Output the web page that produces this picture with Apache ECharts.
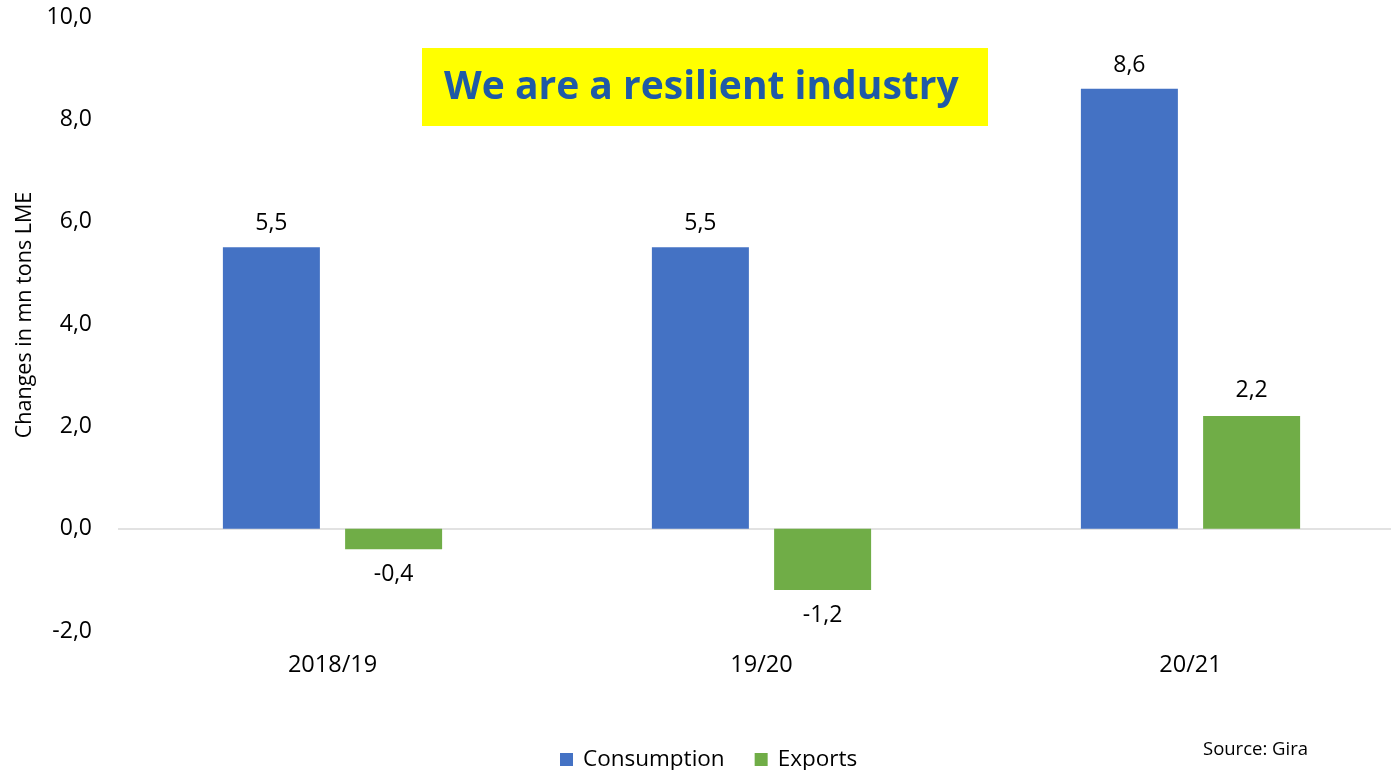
<!DOCTYPE html>
<html>
<head>
<meta charset="utf-8">
<style>
  html, body { margin: 0; padding: 0; background: #ffffff; }
  #chart { width: 1391px; height: 770px; }
</style>
<script src="https://cdn.jsdelivr.net/npm/echarts@6/dist/echarts.min.js"></script>
</head>
<body>
<div id="chart"></div>
<script>
// Season categories and yearly changes (mn tons LME)
const categories = ['2018/19', '19/20', '20/21'];
const consumption = [5.5, 5.5, 8.6];
const exportsChange = [-0.4, -1.2, 2.2];
const seriesNames = ['Consumption', 'Exports'];

const FONT = '"Open Sans", "Liberation Sans", sans-serif';
const fmt = v => v.toFixed(1).replace('.', ',');

// Positive bars get their label above, negative ones below
function withLabels(values) {
  return values.map(v => ({
    value: v,
    label: { position: v < 0 ? 'bottom' : 'top' }
  }));
}

const chart = echarts.init(document.getElementById('chart'), null, { renderer: 'canvas' });

chart.setOption({
  animation: false,
  backgroundColor: '#ffffff',
  textStyle: { fontFamily: FONT },
  // plot area runs a little past the right edge of the canvas
  grid: { left: 118, width: 1287, top: 17, bottom: 139, containLabel: false, outerBoundsMode: 'none' },
  legend: {
    data: seriesNames,
    left: 555,
    top: 743,
    itemWidth: 13,
    itemHeight: 13,
    itemGap: 30,
    icon: 'rect',
    textStyle: { fontFamily: FONT, fontSize: 22.5, color: '#000000', padding: [0, 0, 0, 5] }
  },
  xAxis: {
    type: 'category',
    data: categories,
    axisLine: { show: false, onZero: false },
    axisTick: { show: false },
    axisLabel: { fontFamily: FONT, fontSize: 23.5, color: '#000000', margin: 22 }
  },
  yAxis: {
    type: 'value',
    min: -2,
    max: 10,
    interval: 2,
    axisLine: { show: false },
    axisTick: { show: false },
    axisLabel: { fontFamily: FONT, fontSize: 23, color: '#000000', margin: 26, formatter: fmt },
    // only the zero baseline is visible (ticks: -2, 0, 2, ... 10)
    splitLine: {
      show: true,
      lineStyle: {
        width: 1.5,
        color: ['rgba(0,0,0,0)', '#d9d9d9', 'rgba(0,0,0,0)', 'rgba(0,0,0,0)', 'rgba(0,0,0,0)', 'rgba(0,0,0,0)', 'rgba(0,0,0,0)']
      }
    }
  },
  series: [
    {
      name: seriesNames[0],
      type: 'bar',
      data: withLabels(consumption),
      barWidth: 97,
      barGap: '26%',
      itemStyle: { color: '#4472c4' },
      label: {
        show: true,
        distance: 12,
        fontFamily: FONT,
        fontSize: 23,
        color: '#000000',
        formatter: p => fmt(p.value)
      }
    },
    {
      name: seriesNames[1],
      type: 'bar',
      data: withLabels(exportsChange),
      barWidth: 97,
      barGap: '26%',
      itemStyle: { color: '#70ad47' },
      label: {
        show: true,
        distance: 14,
        fontFamily: FONT,
        fontSize: 23,
        color: '#000000',
        formatter: p => fmt(p.value)
      }
    }
  ],
  graphic: [
    {
      type: 'text',
      x: 25,
      y: 315,
      rotation: Math.PI / 2,
      style: {
        text: 'Changes in mn tons LME',
        fill: '#000000',
        font: '21.5px ' + FONT,
        align: 'center',
        verticalAlign: 'middle'
      }
    },
    {
      type: 'rect',
      left: 422,
      top: 48,
      shape: { width: 566, height: 78 },
      style: { fill: '#ffff00' },
      z: 10
    },
    {
      type: 'text',
      left: 444,
      top: 68,
      style: {
        text: 'We are a resilient industry',
        fill: '#1f5aa6',
        font: 'bold 39px ' + FONT
      },
      z: 11
    },
    {
      type: 'text',
      left: 1203,
      top: 740,
      style: {
        text: 'Source: Gira',
        fill: '#000000',
        font: '18.5px ' + FONT
      },
      z: 11
    }
  ]
});
</script>
</body>
</html>
